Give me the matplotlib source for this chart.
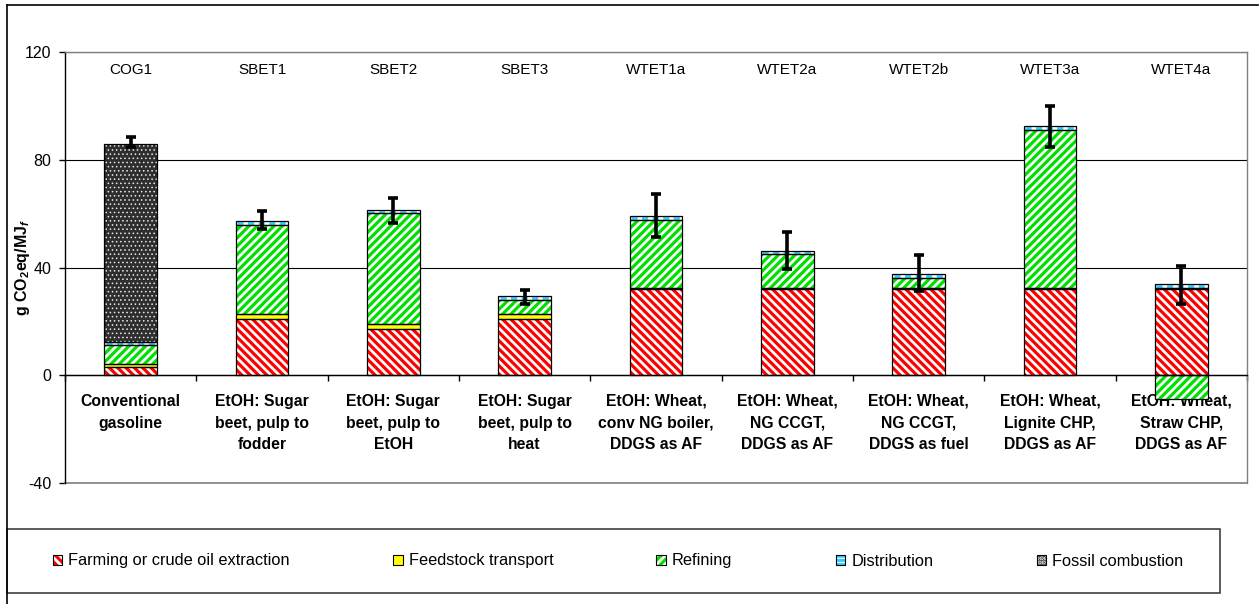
import matplotlib
matplotlib.use("Agg")
import matplotlib.pyplot as plt
import numpy as np
from matplotlib.patches import Patch, Rectangle
from matplotlib.lines import Line2D
from matplotlib.legend_handler import HandlerTuple

plt.rcParams['font.family'] = ['Liberation Sans', 'DejaVu Sans']
plt.rcParams['mathtext.fontset'] = 'custom'
plt.rcParams['mathtext.rm'] = 'Liberation Sans:bold'
plt.rcParams['mathtext.bf'] = 'Liberation Sans:bold'
plt.rcParams['mathtext.it'] = 'Liberation Sans:bold:italic'
plt.rcParams['axes.unicode_minus'] = False
plt.rcParams['hatch.linewidth'] = 2.2

codes = ['COG1', 'SBET1', 'SBET2', 'SBET3', 'WTET1a', 'WTET2a', 'WTET2b', 'WTET3a', 'WTET4a']
pathways = ['Conventional\ngasoline',
            'EtOH: Sugar\nbeet, pulp to\nfodder',
            'EtOH: Sugar\nbeet, pulp to\nEtOH',
            'EtOH: Sugar\nbeet, pulp to\nheat',
            'EtOH: Wheat,\nconv NG boiler,\nDDGS as AF',
            'EtOH: Wheat,\nNG CCGT,\nDDGS as AF',
            'EtOH: Wheat,\nNG CCGT,\nDDGS as fuel',
            'EtOH: Wheat,\nLignite CHP,\nDDGS as AF',
            'EtOH: Wheat,\nStraw CHP,\nDDGS as AF']

farming = [3.1, 20.7, 17.1, 20.7, 32.1, 32.1, 32.1, 32.1, 32.0]
transport = [1.2, 2.0, 1.9, 2.0, 0.3, 0.3, 0.3, 0.3, 0.3]
refining = [6.8, 33.1, 41.1, 5.2, 25.2, 12.5, 3.7, 58.7, -8.7]
distribution = [1.2, 1.6, 1.2, 1.6, 1.4, 1.4, 1.6, 1.3, 1.5]
fossil = [73.4, 0, 0, 0, 0, 0, 0, 0, 0]
err_low = [84.6, 54.2, 56.6, 26.5, 51.4, 39.3, 31.3, 84.9, 26.6]
err_high = [88.4, 61.1, 65.9, 31.7, 67.4, 53.3, 44.5, 100.0, 40.6]

series = [
    ('Farming or crude oil extraction', farming,
     dict(face='white', hcol='#ff0000', hatch='\\\\\\\\', hlw=2.3)),
    ('Feedstock transport', transport, dict(face='#ffff00', hcol='#ffff00', hatch=None, hlw=1)),
    ('Refining', refining, dict(face='white', hcol='#00e000', hatch='////', hlw=2.3)),
    ('Distribution', distribution, dict(face='white', hcol='#33ccff', hatch=None, hlw=1)),
    ('Fossil combustion', fossil, dict(face='#2e2e2e', hcol='#e8e8e8', hatch='....', hlw=0.6)),
]


def set_hlw(artists, lw):
    for a in artists:
        if hasattr(a, 'set_hatch_linewidth'):
            a.set_hatch_linewidth(lw)


W, H = 1259, 604
fig = plt.figure(figsize=(W / 100, H / 100), dpi=100)
ax = fig.add_axes([65 / W, 1 - 483 / H, (1247 - 65) / W, (483 - 52) / H])

x = np.arange(len(codes)) + 0.5
bw = 0.40
pos_bottom = np.zeros(len(codes))
neg_bottom = np.zeros(len(codes))

for name, vals, st in series:
    vals = np.array(vals, dtype=float)
    bottoms = np.where(vals >= 0, pos_bottom, neg_bottom)
    mask = vals != 0
    bars = ax.bar(x[mask], vals[mask], bw, bottom=bottoms[mask], facecolor=st['face'],
                  edgecolor=st['hcol'], hatch=st['hatch'], linewidth=0, zorder=2)
    set_hlw(bars, st['hlw'])
    ax.bar(x[mask], vals[mask], bw, bottom=bottoms[mask], fill=False,
           edgecolor='black', linewidth=0.9, zorder=3)
    if name == 'Distribution':
        mids = bottoms[mask] + vals[mask] / 2
        ax.hlines(mids, x[mask] - bw / 2 + 0.01, x[mask] + bw / 2 - 0.01, colors='#33ccff',
                  linestyles=(0, (2.2, 1.6)), linewidth=2.0, zorder=2.5)
    pos_bottom = pos_bottom + np.where(vals > 0, vals, 0)
    neg_bottom = neg_bottom + np.where(vals < 0, vals, 0)

lo = np.array(err_low)
hi = np.array(err_high)
ax.errorbar(x, (lo + hi) / 2, yerr=(hi - lo) / 2, fmt='none', ecolor='black',
            elinewidth=2.6, capsize=3.8, capthick=2.6, zorder=4)

for xi, c in zip(x, codes):
    ax.text(xi, 113.3, c, ha='center', va='center', fontsize=11)

ax.set_xlim(0, len(codes))
ax.set_ylim(-40, 120)
ax.set_yticks([-40, 0, 40, 80, 120])
ax.yaxis.grid(True, color='black', linewidth=0.8)
ax.set_axisbelow(True)
ax.axhline(-40, color='#808080', linewidth=1.2, zorder=1.5, clip_on=False)

ax.spines['bottom'].set_position(('data', 0))
ax.spines['bottom'].set_color('black')
ax.spines['left'].set_color('black')
ax.spines['top'].set_color('#808080')
ax.spines['right'].set_color('#808080')
for s in ax.spines.values():
    s.set_linewidth(1.0)

ax.set_xticks(np.arange(len(codes) + 1))
ax.set_xticks(x, minor=True)
ax.set_xticklabels(pathways, minor=True, fontsize=11.3, fontweight='bold', linespacing=1.55)
ax.tick_params(axis='x', which='major', length=4, width=1, labelbottom=False, direction='out')
ax.tick_params(axis='x', which='minor', length=0, pad=13.5)
ax.tick_params(axis='y', length=4, width=1, labelsize=11.5, pad=6)

ax.set_ylabel(r'g CO$_\mathregular{2}$eq/MJ$_{\mathit{f}}$', fontsize=11.5, fontweight='bold')
ax.yaxis.set_label_coords(-0.028, 0.5)

# outer chart frame (top and left)
fig.add_artist(Line2D([7 / W, 7 / W], [0, 1 - 5 / H], color='black', linewidth=1.2))
fig.add_artist(Line2D([7 / W, 1258 / W], [1 - 5 / H, 1 - 5 / H], color='black', linewidth=1.2))

# legend box
fig.add_artist(Rectangle((7 / W, 1 - 593 / H), (1220 - 7) / W, (593 - 529) / H,
                         fill=False, edgecolor='#404040', linewidth=1.2))
handles = []
for name, _, st in series:
    hatch = st['hatch'] if name != 'Distribution' else '----'
    p1 = Patch(facecolor=st['face'], edgecolor=st['hcol'], hatch=hatch, linewidth=0)
    set_hlw([p1], st['hlw'] if name != 'Distribution' else 1.5)
    p2 = Patch(fill=False, edgecolor='black', linewidth=0.8)
    handles.append((p1, p2))
leg = fig.legend(handles, [s[0] for s in series], loc='center', ncol=5, frameon=False,
                 bbox_to_anchor=(618 / W, 1 - 561 / H), fontsize=11.8,
                 handler_map={tuple: HandlerTuple(ndivide=1, pad=0)},
                 handlelength=0.6, handleheight=0.6, handletextpad=0.35, columnspacing=6.3)

fig.savefig('out.png', dpi=100)
